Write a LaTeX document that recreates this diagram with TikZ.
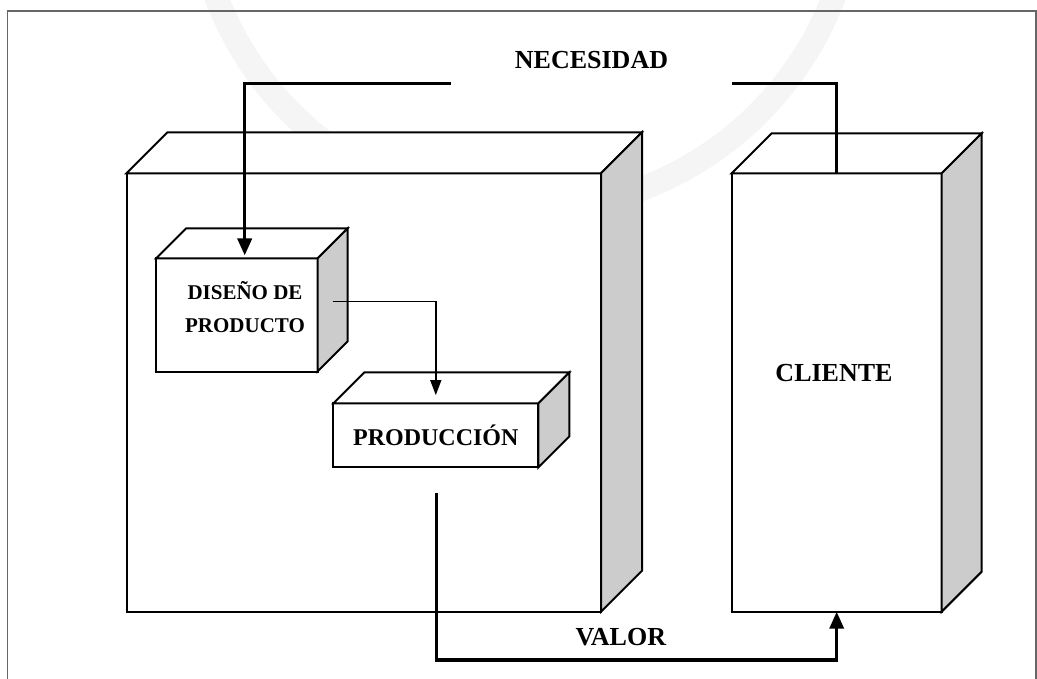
\documentclass[tikz,border=0pt]{standalone}
\usepackage{fontspec}
\setmainfont{Liberation Serif}
\usetikzlibrary{arrows.meta,calc}

% top and right faces of a box whose front face is the node #1, depth #2
\newcommand{\boxfaces}[2]{%
  \filldraw[topface] (#1.north west) -- ++(#2,-#2) -- ($(#1.north east)+(#2,-#2)$) -- (#1.north east) -- cycle;
  \filldraw[sideface] (#1.north east) -- ++(#2,-#2) -- ($(#1.south east)+(#2,-#2)$) -- (#1.south east) -- cycle;
}

\begin{document}
\begin{tikzpicture}[x=1pt,y=-1pt,
  front/.style={draw=black,line width=2pt,fill=white,inner sep=0pt,outer sep=0pt},
  sideface/.style={draw=black,line width=2pt,fill=black!20},
  topface/.style={draw=black,line width=2pt,fill=white},
  flowthick/.style={line width=3.5pt,-{Triangle[length=17pt,width=14pt]}},
  flowthin/.style={line width=1.5pt,-{Triangle[length=15pt,width=11pt]}},
  biglabel/.style={font=\bfseries\fontsize{26}{30}\selectfont,inner sep=0pt},
  framestyle/.style={draw=black!60,line width=1.5pt}]

% canvas
\fill[white] (0,0) rectangle (1037,679);
\useasboundingbox (0,0) rectangle (1037,679);

% faint seal printed behind the figure
\begin{scope}
  \clip (0,0) rectangle (1037,679);
  \draw[black!4,line width=24pt] (525,-120) circle[radius=330];
\end{scope}

% page frame
\draw[framestyle] (7.7,680) -- (7.7,11) -- (1036,11) -- (1036,680);

% organisation block
\node[front,minimum width=474.5pt,minimum height=438.4pt] (org) at (363.75,392.5) {};
\boxfaces{org}{41}

% customer block
\node[front,minimum width=210pt,minimum height=438.4pt] (cli) at (836.7,392.5) {};
\boxfaces{cli}{40}
\node[biglabel] (clitxt) at (834,373) {CLIENTE};

% product design block
\node[front,minimum width=161.5pt,minimum height=113pt] (dis) at (236.75,315) {};
\boxfaces{dis}{30}
\node[font=\bfseries\fontsize{21}{33.5}\selectfont,align=center,inner sep=0pt] (distxt) at (245,307) {DISEÑO DE\\PRODUCTO};

% production block
\node[front,minimum width=205pt,minimum height=64pt] (prod) at (435.8,435.4) {};
\boxfaces{prod}{31}
\node[font=\bfseries\fontsize{24}{28}\selectfont,inner sep=0pt] (prodtxt) at (435.8,435.5) {PRODUCCIÓN};

% need: from the customer back into product design
\coordinate (necR) at (836.7,83.5);
\coordinate (necL) at (244.7,83.5);
\draw[flowthick] (cli.north) -- (necR) -- (necL) -- ($(necL |- dis.north)+(0,-3)$);
\node[biglabel,fill=white,minimum width=281pt,minimum height=51pt] (nec) at (591.5,60.5) {NECESIDAD};

% design hands over to production
\coordinate (d2p) at (332.7,301.7);
\draw[flowthin] (d2p) -| ($(prod.north)+(0,-8.3)$);

% value delivered to the customer
\coordinate (valS) at (436.7,492.7);
\coordinate (valB) at (436.7,660);
\draw[flowthick] (valS) -- (valB) -| (cli.south);
\node[biglabel] (val) at (620.8,636.7) {VALOR};

\end{tikzpicture}
\end{document}
